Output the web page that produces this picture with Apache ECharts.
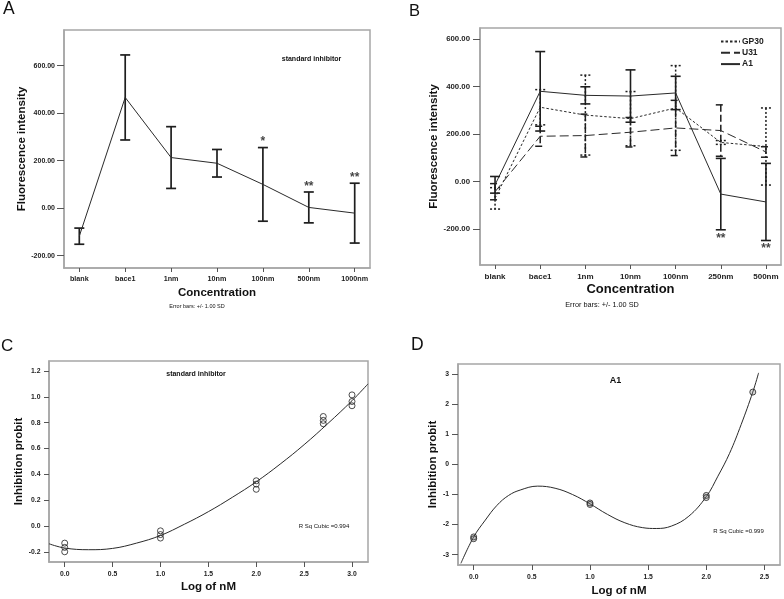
<!DOCTYPE html>
<html><head><meta charset="utf-8">
<script src="https://cdn.jsdelivr.net/npm/echarts@6/dist/echarts.min.js"></script>
<style>html,body{margin:0;padding:0;background:#fff}#c{width:784px;height:599px}</style>
</head><body><div id="c"></div>
<script>
// ---------- Panel A : standard inhibitor ----------
const catsA = ['blank','bace1','1nm','10nm','100nm','500nm','1000nm'];
const meanA = [-118, 466, 213, 189, 100, 3, -21];
const sdA   = [34, 179, 130, 58, 155, 65, 126];
const starsA = ['', '', '', '', '*', '**', '**'];
const yTicksA = [-200, 0, 200, 400, 600];

// ---------- Panel B : GP30 / U31 / A1 ----------
const catsB = ['blank','bace1','1nm','10nm','100nm','250nm','500nm'];
const gp30Mean = [-70, 313, 280, 265, 310, 165, 148];
const gp30Sd   = [45, 74, 168, 114, 178, 8, 162];
const u31Mean  = [-42, 191, 194, 208, 226, 215, 125];
const u31Sd    = [34, 42, 90, 62, 116, 108, 22];
const a1Mean   = [-13, 380, 363, 360, 373, -52, -85];
const a1Sd     = [35, 167, 36, 110, 70, 150, 162];
const starsB   = ['', '', '', '', '', '**', '**'];
const yTicksB = [-200, 0, 200, 400, 600];

// ---------- Panel C : standard inhibitor probit ----------
const cObsX = [0, 0, 0, 1, 1, 1, 2, 2, 2, 2.7, 2.7, 2.7, 3, 3, 3];
const cObsY = [-0.131, -0.164, -0.198, -0.036, -0.065, -0.092, 0.351, 0.325, 0.285, 0.848, 0.818, 0.792, 1.015, 0.964, 0.931];
const cFitX = [-0.164, 0, 0.25, 0.5, 0.75, 1.0, 1.25, 1.5, 1.75, 2.0, 2.25, 2.5, 2.75, 3.0, 3.167];
const cFitY = [-0.136, -0.169, -0.182, -0.172, -0.131, -0.072, 0.015, 0.112, 0.223, 0.343, 0.48, 0.63, 0.795, 0.97, 1.10];
const xTicksC = [0, 0.5, 1, 1.5, 2, 2.5, 3];
const yTicksC = [-0.2, 0, 0.2, 0.4, 0.6, 0.8, 1.0, 1.2];

// ---------- Panel D : A1 probit ----------
const dObsX = [0, 0, 1, 1, 2, 2, 2.4];
const dObsY = [-2.41, -2.47, -1.28, -1.33, -1.03, -1.10, 2.41];
const dFitX = [-0.11, 0, 0.1, 0.2, 0.3, 0.4, 0.55, 0.7, 0.85, 1.0, 1.15, 1.3, 1.45, 1.57, 1.7, 1.85, 2.0, 2.1, 2.2, 2.3, 2.4, 2.45];
const dFitY = [-3.29, -2.41, -1.85, -1.36, -1.03, -0.85, -0.72, -0.79, -1.0, -1.31, -1.66, -1.94, -2.10, -2.13, -2.05, -1.72, -1.07, -0.39, 0.37, 1.33, 2.41, 3.05];
const xTicksD = [0, 0.5, 1, 1.5, 2, 2.5];
const yTicksD = [-3, -2, -1, 0, 1, 2, 3];

const FF = '"Liberation Sans", Arial, Helvetica, sans-serif';
const FRAME = '#a6a6a6';

function axis(o) {
  return {
    type: 'value', gridIndex: o.g, min: o.min, max: o.max,
    name: o.name, nameLocation: 'middle', nameGap: o.nameGap,
    nameTextStyle: {fontFamily: FF, fontWeight: 'bold', fontSize: o.nameSize || 11.5, color: '#111'},
    axisLine: {show: true, onZero: false, lineStyle: {color: FRAME, width: 1.5}},
    axisTick: {show: true, length: o.tickLen || 5, customValues: o.ticks, lineStyle: {color: '#555', width: 1}},
    axisLabel: {show: true, customValues: o.ticks, margin: o.margin, formatter: o.fmt,
      fontFamily: FF, fontWeight: 'bold', fontSize: o.labelSize || 7, color: '#222'},
    splitLine: {show: false}
  };
}

function errRender(dash, cap, width) {
  return function (params, api) {
    const x = api.value(0), lo = api.value(1), hi = api.value(2);
    const p1 = api.coord([x, hi]), p2 = api.coord([x, lo]);
    const style = {stroke: '#1e1e1e', lineWidth: width, lineDash: dash, fill: null};
    return {type: 'group', children: [
      {type: 'line', shape: {x1: p1[0], y1: p1[1], x2: p2[0], y2: p2[1]}, style: style},
      {type: 'line', shape: {x1: p1[0] - cap, y1: p1[1], x2: p1[0] + cap, y2: p1[1]}, style: style},
      {type: 'line', shape: {x1: p2[0] - cap, y1: p2[1], x2: p2[0] + cap, y2: p2[1]}, style: style}
    ]};
  };
}
function errData(means, sds) { return means.map((m, i) => [i, m - sds[i], m + sds[i]]); }
function errSeries(name, xi, yi, means, sds, dash, cap, width) {
  return {type: 'custom', name: name, xAxisIndex: xi, yAxisIndex: yi, renderItem: errRender(dash, cap, width),
    data: errData(means, sds), encode: {x: 0, y: [1, 2]}, z: 3, silent: true};
}
function lineSeries(name, xi, yi, data, type, smooth) {
  return {type: 'line', name: name, xAxisIndex: xi, yAxisIndex: yi, data: data, symbol: 'none',
    smooth: smooth || false, lineStyle: {color: '#2a2a2a', width: 1, type: type},
    itemStyle: {color: 'rgba(0,0,0,0)', borderWidth: 0}, z: 4, silent: true};
}
function starSeries(xi, yi, means, sds, stars, up) {
  const d = [];
  stars.forEach((s, i) => { if (s) d.push([i, up ? means[i] + sds[i] : means[i] - sds[i], s]); });
  return {type: 'scatter', xAxisIndex: xi, yAxisIndex: yi, data: d, symbolSize: 1,
    itemStyle: {color: 'rgba(0,0,0,0)'}, silent: true, z: 5,
    label: {show: true, position: up ? 'top' : 'bottom', distance: up ? -1 : 2, formatter: p => p.value[2],
      fontFamily: FF, fontWeight: 'bold', fontSize: 12, color: '#111'}};
}

const toPts = (xs, ys) => xs.map((x, i) => [x, ys[i]]);
const f2 = v => v.toFixed(2);
const f1 = v => v.toFixed(1);

function txt(x, y, text, size, bold, align) {
  return {type: 'text', x: x, y: y, silent: true, style: {text: text, fontFamily: FF, fontSize: size,
    fontWeight: bold ? 'bold' : 'normal', fill: '#111', align: align || 'center', verticalAlign: 'middle'}};
}

const chart = echarts.init(document.getElementById('c'), null, {renderer: 'canvas'});
chart.setOption({
  backgroundColor: '#fff',
  animation: false,
  grid: [
    {left: 64, top: 30, width: 306, height: 238, show: true, borderColor: FRAME, borderWidth: 1.5, containLabel: false},
    {left: 480, top: 28, width: 301, height: 237, show: true, borderColor: FRAME, borderWidth: 1.5, containLabel: false},
    {left: 49, top: 361, width: 319, height: 201, show: true, borderColor: FRAME, borderWidth: 1.5, containLabel: false},
    {left: 458, top: 364, width: 322, height: 201, show: true, borderColor: FRAME, borderWidth: 1.5, containLabel: false}
  ],
  xAxis: [
    axis({g: 0, min: -1/3, max: 6 + 1/3, ticks: [0,1,2,3,4,5,6], fmt: v => catsA[Math.round(v)], margin: 7.5, labelSize: 7.2,
      name: 'Concentration', nameGap: 19, tickLen: 4}),
    axis({g: 1, min: -1/3, max: 6 + 1/3, ticks: [0,1,2,3,4,5,6], fmt: v => catsB[Math.round(v)], margin: 7.5, labelSize: 8,
      name: 'Concentration', nameGap: 18, nameSize: 13, tickLen: 4}),
    axis({g: 2, min: -0.164, max: 3.167, ticks: xTicksC, fmt: f1, margin: 8.5, labelSize: 6.8,
      name: 'Log of nM', nameGap: 19, tickLen: 5}),
    axis({g: 3, min: -0.135, max: 2.634, ticks: xTicksD, fmt: f1, margin: 8.5, labelSize: 6.8,
      name: 'Log of nM', nameGap: 20, tickLen: 5})
  ],
  yAxis: [
    axis({g: 0, min: -252, max: 750, ticks: yTicksA, fmt: f2, margin: 9, labelSize: 7,
      name: 'Fluorescence intensity', nameGap: 35.5, tickLen: 7}),
    axis({g: 1, min: -350, max: 646, ticks: yTicksB, fmt: f2, margin: 10, labelSize: 7.8,
      name: 'Fluorescence intensity', nameGap: 40, tickLen: 7}),
    axis({g: 2, min: -0.277, max: 1.277, ticks: yTicksC, fmt: f1, margin: 8.5, labelSize: 6.8,
      name: 'Inhibition probit', nameGap: 23.5, tickLen: 5}),
    axis({g: 3, min: -3.345, max: 3.345, ticks: yTicksD, fmt: v => String(Math.round(v)), margin: 9, labelSize: 6.8,
      name: 'Inhibition probit', nameGap: 18, tickLen: 6})
  ],
  legend: {
    data: ['GP30', 'U31', 'A1'], orient: 'vertical', left: 720, top: 37, itemWidth: 19, itemHeight: 8, itemGap: 2.3,
    selectedMode: false, padding: 0,
    itemStyle: {color: 'rgba(0,0,0,0)', borderWidth: 0},
    textStyle: {fontFamily: FF, fontWeight: 'bold', fontSize: 8.5, color: '#222', padding: [0, 0, 0, -3]}
  },
  series: [
    // A
    errSeries('A SD', 0, 0, meanA, sdA, null, 5, 1.7),
    lineSeries('A mean', 0, 0, meanA.map((v, i) => [i, v]), 'solid'),
    starSeries(0, 0, meanA, sdA, starsA, true),
    // B
    errSeries('GP30 SD', 1, 1, gp30Mean, gp30Sd, [2, 2], 5, 1.5),
    errSeries('U31 SD', 1, 1, u31Mean, u31Sd, [7, 3], 5, 1.5),
    errSeries('A1 SD', 1, 1, a1Mean, a1Sd, null, 5, 1.6),
    lineSeries('GP30', 1, 1, gp30Mean.map((v, i) => [i, v]), [2.5, 2]),
    lineSeries('U31', 1, 1, u31Mean.map((v, i) => [i, v]), [9, 4]),
    lineSeries('A1', 1, 1, a1Mean.map((v, i) => [i, v]), 'solid'),
    starSeries(1, 1, a1Mean, a1Sd, starsB, false),
    // C
    lineSeries('C fit', 2, 2, toPts(cFitX, cFitY), 'solid', 0.4),
    {type: 'scatter', xAxisIndex: 2, yAxisIndex: 2, data: toPts(cObsX, cObsY), symbol: 'circle', symbolSize: 6,
      itemStyle: {color: 'rgba(255,255,255,0)', borderColor: '#222', borderWidth: 1}, z: 5, silent: true},
    // D
    lineSeries('D fit', 3, 3, toPts(dFitX, dFitY), 'solid', 0.4),
    {type: 'scatter', xAxisIndex: 3, yAxisIndex: 3, data: toPts(dObsX, dObsY), symbol: 'circle', symbolSize: 6,
      itemStyle: {color: 'rgba(120,120,120,0.35)', borderColor: '#222', borderWidth: 1}, z: 5, silent: true}
  ],
  graphic: [
    txt(3, 9.5, 'A', 17.5, false, 'left'),
    txt(409, 11, 'B', 16.5, false, 'left'),
    txt(1, 346, 'C', 17, false, 'left'),
    txt(411, 345, 'D', 17.5, false, 'left'),
    txt(197, 306.5, 'Error bars: +/- 1.00 SD', 5.5, false),
    txt(602, 305, 'Error bars: +/- 1.00 SD', 7.3, false),
    txt(311.5, 59, 'standard inhibitor', 7, true),
    txt(196, 374.3, 'standard inhibitor', 7, true),
    txt(615.5, 380.7, 'A1', 9, true),
    txt(324, 526.7, 'R Sq Cubic =0.994', 6, false),
    txt(738.5, 531, 'R Sq Cubic =0.999', 6, false)
  ]
});
</script>
</body></html>
